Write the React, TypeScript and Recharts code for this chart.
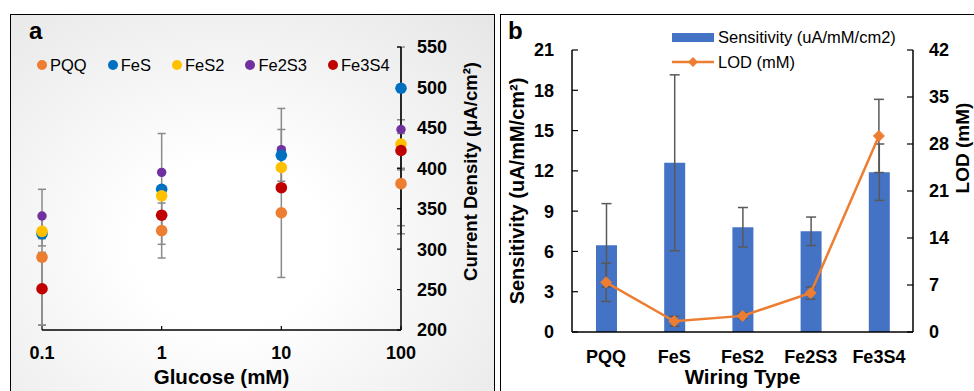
import React from 'react';
import { ScatterChart, Scatter, XAxis, YAxis, ErrorBar, ComposedChart, Bar, Line, Label } from 'recharts';

const FONT = '"Liberation Sans", Arial, Helvetica, sans-serif';

// ---------- Panel a data ----------
const glucose = [0.1, 1, 10, 100];
const glucoseTicks = [0.1, 1, 10, 100];
const densityTicks = [200, 250, 300, 350, 400, 450, 500, 550];
const pqq = [290, 323, 345, 381];
const fes = [319, 374, 416, 499];
const fes2 = [322, 366, 401, 430];
const fe2s3 = [341, 395, 423, 448];
const fe3s4 = [251, 342, 376, 422];
const pqqErr: (number | number[])[] = [84, 17, 80, 62];
const fesErr: (number | number[])[] = [6, 0, 32, [170, 51]];
const fes2Err: (number | number[])[] = [18, 77, 0, 30];
const fe2s3Err: (number | number[])[] = [0, 0, 51, 0];
const fe3s4Err: (number | number[])[] = [45, 15, 0, 24];

// ---------- Panel b data ----------
const wiring = ['PQQ', 'FeS', 'FeS2', 'Fe2S3', 'Fe3S4'];
const sensitivity = [6.46, 12.6, 7.8, 7.5, 11.9];
const sensitivityErr = [3.1, 6.55, 1.47, 1.06, 2.1];
const lod = [7.4, 1.6, 2.4, 5.8, 29.2];
const lodErr = [2.85, 0.75, 0.4, 0.9, 5.45];
const sensTicks = [0, 3, 6, 9, 12, 15, 18, 21];
const lodTicks = [0, 7, 14, 21, 28, 35, 42];

type SeriesA = { name: string; values: number[]; err: (number | number[])[]; color: string; r: number };
const seriesA: SeriesA[] = [
  { name: 'PQQ', values: pqq, err: pqqErr, color: '#ED7D31', r: 5.8 },
  { name: 'FeS', values: fes, err: fesErr, color: '#0070C0', r: 5.8 },
  { name: 'FeS2', values: fes2, err: fes2Err, color: '#FFC000', r: 5.8 },
  { name: 'Fe2S3', values: fe2s3, err: fe2s3Err, color: '#7030A0', r: 4.7 },
  { name: 'Fe3S4', values: fe3s4, err: fe3s4Err, color: '#C00000', r: 5.8 },
];
const drawOrder = ['Fe2S3', 'PQQ', 'FeS', 'FeS2', 'Fe3S4'];

const errorRows = seriesA.flatMap((s) => glucose.map((g, i) => ({ x: g, y: s.values[i], err: s.err[i] })));

const rowsB = wiring.map((w, i) => ({
  name: w,
  sens: sensitivity[i],
  sensErr: sensitivityErr[i],
  lod: lod[i],
  lodErr: lodErr[i],
}));

const tickStyle = { fill: '#000', fontSize: 18, fontWeight: 700, fontFamily: FONT };
const titleStyle: React.CSSProperties = { fill: '#000', fontSize: 20.5, fontWeight: 700, fontFamily: FONT };

const vLabel = (value: string, dx: number, dy: number, fontSize: number) => (props: any) => {
  const vb = props.viewBox || { x: 0, y: 0, width: 0, height: 0 };
  const cx = vb.x + vb.width / 2 + dx;
  const cy = vb.y + vb.height / 2 + dy;
  return (
    <text
      x={cx}
      y={cy}
      dy="0.36em"
      transform={`rotate(-90 ${cx} ${cy})`}
      textAnchor="middle"
      style={{ ...titleStyle, fontSize }}
    >
      {value}
    </text>
  );
};

const hLabel = (value: string, baseline: number) => (props: any) => {
  const vb = props.viewBox || { x: 0, y: 0, width: 0, height: 0 };
  const cx = vb.x + vb.width / 2;
  return (
    <text x={cx} y={baseline} textAnchor="middle" style={titleStyle}>
      {value}
    </text>
  );
};

const Diamond = (props: any) => {
  const { cx, cy } = props;
  if (cx == null || cy == null) return <g />;
  const h = 5.5;
  return (
    <polygon
      points={`${cx},${cy - h} ${cx + h},${cy} ${cx},${cy + h} ${cx - h},${cy}`}
      fill="#ED7D31"
      stroke="#ED7D31"
    />
  );
};

const PanelA = () => (
  <ScatterChart width={500} height={391} margin={{ top: 47, right: 39, bottom: 11, left: 42 }}>
    <XAxis
      dataKey="x"
      type="number"
      scale="log"
      domain={[0.1, 100]}
      ticks={glucoseTicks}
      tickFormatter={(v: number) => String(v)}
      axisLine={{ stroke: '#000', strokeWidth: 1.5 }}
      tickLine={{ stroke: '#000', strokeWidth: 1.2 }}
      tickSize={-4}
      tickMargin={20}
      height={50}
      tick={tickStyle}
      interval={0}
    >
      <Label content={hLabel('Glucose (mM)', 384)} />
    </XAxis>
    <YAxis
      dataKey="y"
      type="number"
      orientation="right"
      domain={[200, 550]}
      ticks={densityTicks}
      axisLine={{ stroke: '#000', strokeWidth: 1.5 }}
      tickLine={{ stroke: '#000', strokeWidth: 1.2 }}
      tickSize={-4}
      tickMargin={20}
      width={60}
      tick={tickStyle}
      interval={0}
    >
      <Label content={vLabel('Current Density (μA/cm²)', 39, -17, 18.5)} />
    </YAxis>
    <Scatter data={errorRows} dataKey="y" shape={() => <g />} isAnimationActive={false}>
      <ErrorBar dataKey="err" direction="y" width={4} stroke="#8a8a8a" strokeWidth={1.5} />
    </Scatter>
    {drawOrder.map((n) => {
      const s = seriesA.find((q) => q.name === n)!;
      return (
        <Scatter
          key={s.name}
          name={s.name}
          data={glucose.map((g, i) => ({ x: g, y: s.values[i] }))}
          dataKey="y"
          fill={s.color}
          isAnimationActive={false}
          shape={(p: any) => <circle cx={p.cx} cy={p.cy} r={s.r} fill={s.color} />}
        />
      );
    })}
  </ScatterChart>
);

const PanelB = () => (
  <ComposedChart width={473} height={391} data={rowsB} margin={{ top: 50, right: 0, bottom: 9, left: 0 }}>
    <XAxis
      dataKey="name"
      tickLine={false}
      tickSize={0}
      tickMargin={18}
      axisLine={{ stroke: '#000', strokeWidth: 1.5 }}
      height={50}
      tick={tickStyle}
      interval={0}
    >
      <Label content={hLabel('Wiring Type', 384)} />
    </XAxis>
    <YAxis
      yAxisId="left"
      domain={[0, 21]}
      ticks={sensTicks}
      width={71}
      tickSize={-6}
      tickMargin={24}
      axisLine={{ stroke: '#000', strokeWidth: 1.5 }}
      tickLine={{ stroke: '#000', strokeWidth: 1.2 }}
      tick={tickStyle}
      interval={0}
    >
      <Label content={vLabel('Sensitivity (uA/mM/cm²)', -19.5, 0, 20)} />
    </YAxis>
    <YAxis
      yAxisId="right"
      orientation="right"
      domain={[0, 42]}
      ticks={lodTicks}
      width={61}
      tickSize={-6}
      tickMargin={22}
      axisLine={{ stroke: '#000', strokeWidth: 1.5 }}
      tickLine={{ stroke: '#000', strokeWidth: 1.2 }}
      tick={tickStyle}
      interval={0}
    >
      <Label content={vLabel('LOD (mM)', 18.5, -43, 19)} />
    </YAxis>
    <Bar yAxisId="left" dataKey="sens" fill="#4472C4" barSize={21} isAnimationActive={false}>
      <ErrorBar dataKey="sensErr" direction="y" width={5} stroke="#595959" strokeWidth={1.5} />
    </Bar>
    <Line
      yAxisId="right"
      dataKey="lod"
      stroke="#ED7D31"
      strokeWidth={2.5}
      dot={<Diamond />}
      activeDot={false}
      isAnimationActive={false}
    >
      <ErrorBar dataKey="lodErr" direction="y" width={5} stroke="#595959" strokeWidth={1.5} />
    </Line>
  </ComposedChart>
);

export default function App() {
  return (
    <div
      style={{
        position: 'absolute',
        left: 0,
        top: 0,
        width: 974,
        height: 391,
        overflow: 'hidden',
        background: '#fff',
        fontFamily: FONT,
      }}
    >
      <div
        style={{
          position: 'absolute',
          left: 10,
          top: 14,
          width: 485,
          height: 420,
          boxSizing: 'border-box',
          border: '1px solid #000',
          background: 'radial-gradient(ellipse farthest-corner at 45% 55%, #ffffff 25%, #e6e6e6 100%)',
        }}
      />
      <div
        style={{
          position: 'absolute',
          left: 500,
          top: 14,
          width: 520,
          height: 420,
          boxSizing: 'border-box',
          border: '1px solid #000',
          background: '#fff',
        }}
      />
      <div style={{ position: 'absolute', left: 0, top: 0 }}>
        <PanelA />
      </div>
      <div style={{ position: 'absolute', left: 501, top: 0 }}>
        <PanelB />
      </div>
      <svg width={974} height={391} style={{ position: 'absolute', left: 0, top: 0, pointerEvents: 'none' }}>
        <text x={29} y={39} style={{ fontSize: 24, fontWeight: 700, fontFamily: FONT, fill: '#000' }}>a</text>
        <text x={508} y={39} style={{ fontSize: 24, fontWeight: 700, fontFamily: FONT, fill: '#000' }}>b</text>
      </svg>
      {/* Legend panel a */}
      <div
        style={{
          position: 'absolute',
          left: 37,
          top: 55,
          height: 20,
          display: 'flex',
          alignItems: 'center',
          gap: 21,
          fontSize: 16.5,
          color: '#000',
        }}
      >
        {seriesA.map((s) => (
          <div key={s.name} style={{ display: 'flex', alignItems: 'center', gap: 3 }}>
            <span style={{ width: 10, height: 10, borderRadius: 5, background: s.color, display: 'inline-block' }} />
            <span>{s.name}</span>
          </div>
        ))}
      </div>
      {/* Legend panel b */}
      <div style={{ position: 'absolute', left: 672, top: 27, fontSize: 16.5, color: '#000' }}>
        <div style={{ display: 'flex', alignItems: 'center', gap: 4, height: 20 }}>
          <span style={{ width: 42, height: 9, background: '#4472C4', display: 'inline-block' }} />
          <span>Sensitivity (uA/mM/cm2)</span>
        </div>
        <div style={{ display: 'flex', alignItems: 'center', gap: 4, height: 20, marginTop: 5 }}>
          <svg width={42} height={12}>
            <line x1={0} y1={6} x2={42} y2={6} stroke="#ED7D31" strokeWidth={2.5} />
            <polygon points="21,1 26,6 21,11 16,6" fill="#ED7D31" />
          </svg>
          <span>LOD (mM)</span>
        </div>
      </div>
    </div>
  );
}
